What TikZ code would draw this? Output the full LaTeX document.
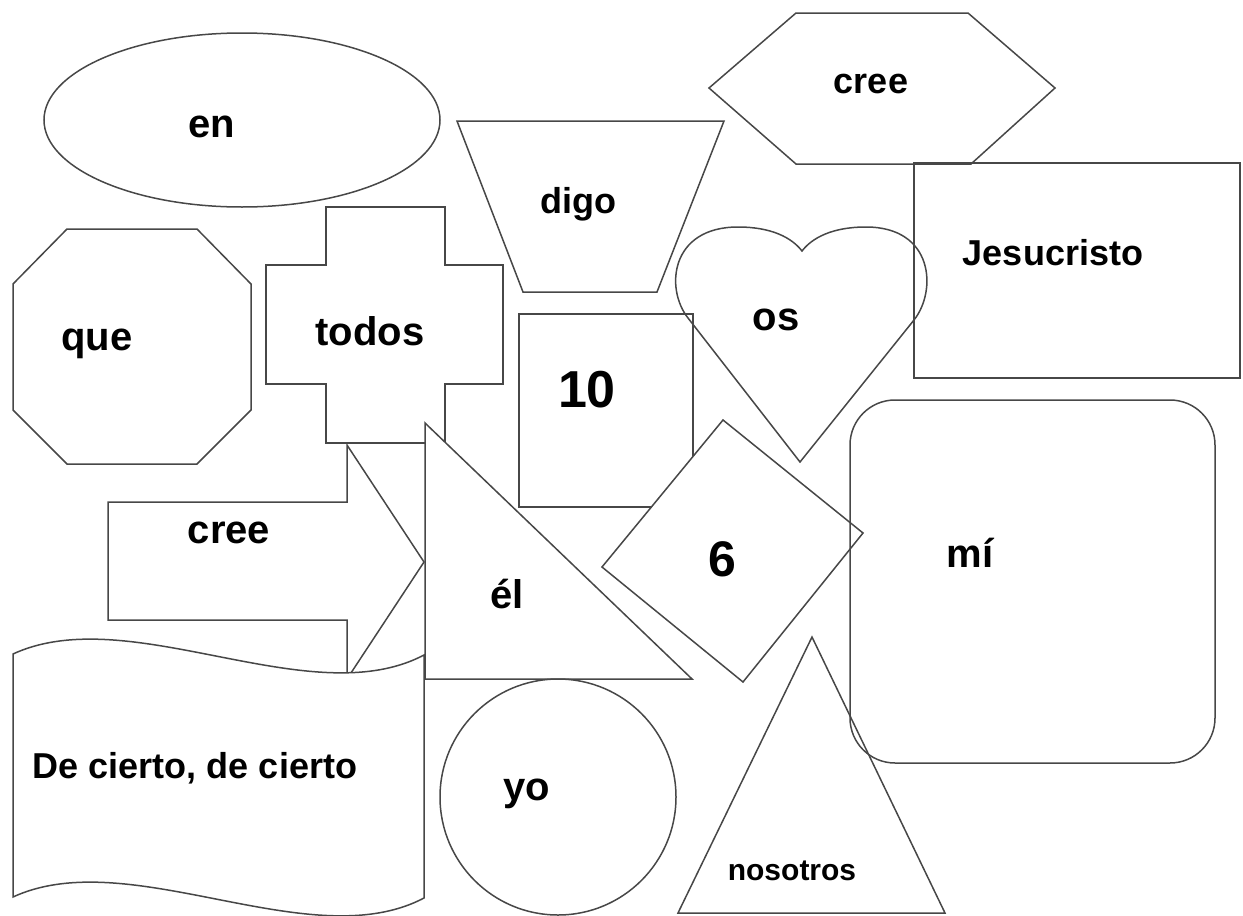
\documentclass[tikz,border=0pt]{standalone}
\usepackage{fontspec}
\setmainfont{Liberation Sans}
\usepackage{tikz}

\begin{document}
\begin{tikzpicture}[x=1pt,y=-1pt,
	shp/.style={draw=black!72,line width=1.5pt,line join=miter},
	lbl/.style={anchor=base,inner sep=0pt,font=\fontsize{#1}{#1}\selectfont\bfseries}]
	\useasboundingbox (0,0) rectangle (1243,916);
	
	\draw[shp] (242,120) ellipse [x radius=198,y radius=87];
	\draw[shp] (67,229) -- (197,229) -- (251,284) -- (251,410) -- (197,464) -- (67,464) -- (13,410) -- (13,284) -- cycle;
	\draw[shp] (326,207) -- (445,207) -- (445,265) -- (503,265) -- (503,384) -- (445,384) -- (445,443) -- (326,443) -- (326,384) -- (266,384) -- (266,265) -- (326,265) -- cycle;
	\draw[shp] (457,121) -- (724,121) -- (657,292) -- (523,292) -- cycle;
	\draw[shp] (709,88) -- (796,13) -- (968,13) -- (1055,88) -- (971,164) -- (796,164) -- cycle;
	\draw[shp] (914,163) rectangle (1240,378);
	\draw[shp] (800,462) -- (688,318) .. controls (665,289) and (670,227) .. (738,227) .. controls (772,227) and (792,238) .. (802,251) .. controls (812,238) and (832,227) .. (866,227) .. controls (934,227) and (937,291) .. (914,320) -- cycle;
	\draw[shp] (519,314) rectangle (693,507);
	\draw[shp,fill=white] (723,420) -- (863,533) -- (743,682) -- (602,567) -- cycle;
	\draw[shp,rounded corners=45pt] (850,400) rectangle (1215,763);
	\draw[shp] (108,502) -- (347,502) -- (347,445) -- (424,562) -- (347,679) -- (347,620) -- (108,620) -- cycle;
	\draw[shp,fill=white] (425,423) -- (692,679) -- (425,679) -- cycle;
	\draw[shp,fill=white] (13,654) .. controls (130,600) and (310,715) .. (424,655) -- (424,898) .. controls (310,958) and (130,843) .. (13,897) -- cycle;
	\draw[shp] (558,797) circle [radius=118];
	\draw[shp] (812,637) -- (945,913) -- (678,913) -- cycle;
	
	\node[lbl=40] (en) at (212,137) {en};
	\node[lbl=40] (que) at (97,350) {que};
	\node[lbl=40] (todos) at (370,345) {todos};
	\node[lbl=36] (digo) at (578,213) {digo};
	\node[lbl=36] (creetop) at (871,93) {cree};
	\node[lbl=36] (jesucristo) at (1053,265) {Jesucristo};
	\node[lbl=40] (os) at (776,330) {os};
	\node[lbl=52] (diez) at (587,407) {10};
	\node[lbl=40] (creearrow) at (229,543) {cree};
	\node[lbl=40] (el) at (507,608) {él};
	\node[lbl=50] (seis) at (722,576) {6};
	\node[lbl=36] (decierto) at (195,778) {De cierto, de cierto};
	\node[lbl=40] (yo) at (527,800) {yo};
	\node[lbl=30] (nosotros) at (792,880) {nosotros};
	\node[lbl=40] (mi) at (970,567) {mí};
\end{tikzpicture}
\end{document}
